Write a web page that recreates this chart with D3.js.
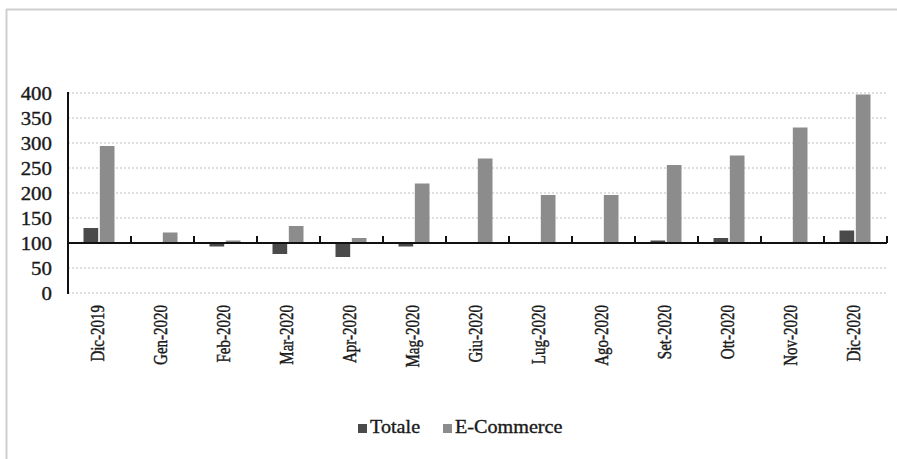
<!DOCTYPE html>
<html>
<head>
<meta charset="utf-8">
<script src="https://cdn.jsdelivr.net/npm/d3@7"></script>
<style>
  html, body { margin: 0; padding: 0; background: #fff; }
  svg { display: block; }
  text { font-family: "Liberation Serif", "Times New Roman", serif; fill: #1a1a1a; stroke: #1a1a1a; stroke-width: 0.35px; }
</style>
</head>
<body>
<svg id="chart" width="897" height="459"></svg>
<script>
// Monthly index (base = 100): overall vs. e-commerce
const categories = ["Dic-2019", "Gen-2020", "Feb-2020", "Mar-2020", "Apr-2020", "Mag-2020", "Giu-2020",
                    "Lug-2020", "Ago-2020", "Set-2020", "Ott-2020", "Nov-2020", "Dic-2020"];
const totale    = [130, 100, 93, 78, 72, 93, 99, 100, 99, 105, 110, 99, 125];
const ecommerce = [294, 121, 105, 134, 110, 219, 269, 196, 196, 256, 275, 331, 397];
const seriesNames = ["Totale", "E-Commerce"];
const seriesColors = ["#4a4a4a", "#8c8c8c"];
const yTicks = [0, 50, 100, 150, 200, 250, 300, 350, 400];
const baseValue = 100;

const svg = d3.select("#chart");
const W = 897, H = 459;
const plot = { left: 68, right: 887, top: 93, bottom: 293 };

// outer frame
svg.append("line").attr("x1", 6).attr("x2", W).attr("y1", 9.5).attr("y2", 9.5)
  .attr("stroke", "#cfcfcf").attr("stroke-width", 2);
svg.append("line").attr("x1", 6.5).attr("x2", 6.5).attr("y1", 9).attr("y2", H)
  .attr("stroke", "#cfcfcf").attr("stroke-width", 2);

const y = d3.scaleLinear().domain([0, 400]).range([plot.bottom, plot.top]);
const x = d3.scaleBand().domain(categories).range([plot.left, plot.right]).padding(0);
const xs = d3.scaleBand().domain(seriesNames).range([-16, 15]).paddingInner(0.1);

// dotted gridlines
svg.append("g").selectAll("line").data(yTicks.filter(v => v !== baseValue)).join("line")
  .attr("x1", plot.left).attr("x2", plot.right)
  .attr("y1", d => y(d)).attr("y2", d => y(d))
  .attr("stroke", "#bdbdbd").attr("stroke-width", 1).attr("stroke-dasharray", "2,2");

// y tick labels
svg.append("g").selectAll("text").data(yTicks).join("text")
  .attr("transform", d => `translate(52,${y(d)}) scale(1.1,1)`)
  .attr("dy", "0.35em")
  .attr("text-anchor", "end").attr("font-size", 19)
  .text(d => d);

// bars grow up or down from the base value
const series = [totale, ecommerce];
series.forEach((vals, si) => {
  svg.append("g").selectAll("rect").data(vals).join("rect")
    .attr("x", (d, i) => x(categories[i]) + x.bandwidth() / 2 + xs(seriesNames[si]))
    .attr("width", xs.bandwidth())
    .attr("y", d => Math.min(y(d), y(baseValue)))
    .attr("height", d => Math.abs(y(d) - y(baseValue)))
    .attr("fill", seriesColors[si]);
});

// vertical axis
svg.append("line").attr("x1", plot.left).attr("x2", plot.left)
  .attr("y1", plot.top - 1).attr("y2", plot.bottom + 1)
  .attr("stroke", "#111").attr("stroke-width", 2);

// category axis crossing at the base value, with tick marks between categories
const baseY = y(baseValue);
svg.append("line").attr("x1", plot.left).attr("x2", plot.right)
  .attr("y1", baseY).attr("y2", baseY)
  .attr("stroke", "#111").attr("stroke-width", 2);
const bounds = categories.slice(1).map(c => x(c)).concat([plot.right]);
svg.append("g").selectAll("line").data(bounds).join("line")
  .attr("x1", d => d).attr("x2", d => d)
  .attr("y1", baseY - 7).attr("y2", baseY)
  .attr("stroke", "#111").attr("stroke-width", 2);

// rotated category labels
svg.append("g").selectAll("text").data(categories).join("text")
  .attr("transform", d => `translate(${x(d) + x.bandwidth() / 2 - 2},305) rotate(-90) scale(1,1.25)`)
  .attr("text-anchor", "end").attr("dy", "0.33em")
  .attr("font-size", 15)
  .text(d => d);

// legend
const legend = svg.append("g");
const legendItems = [{ name: seriesNames[0], color: seriesColors[0], x: 358 },
                     { name: seriesNames[1], color: seriesColors[1], x: 443 }];
legendItems.forEach(it => {
  legend.append("rect").attr("x", it.x).attr("y", 424).attr("width", 9).attr("height", 9).attr("fill", it.color);
  legend.append("text").attr("transform", `translate(${it.x + 12},433) scale(1.12,1)`)
    .attr("font-size", 18).text(it.name);
});
</script>
</body>
</html>
